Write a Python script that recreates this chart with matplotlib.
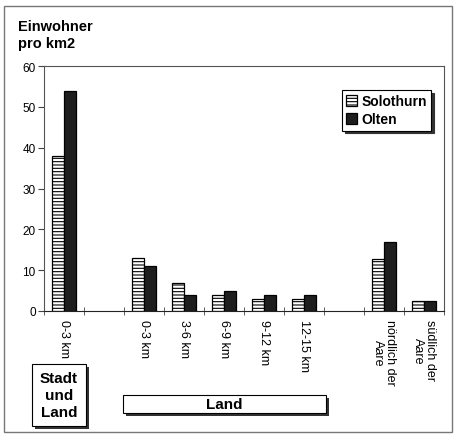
import matplotlib
matplotlib.use('Agg')
import matplotlib.pyplot as plt
from matplotlib.patches import Rectangle
import numpy as np

plt.rcParams['font.family'] = ['Liberation Sans', 'DejaVu Sans']
plt.rcParams['hatch.color'] = '#888888'
plt.rcParams['hatch.linewidth'] = 0.8

# Data
categories = ['0-3 km', '', '0-3 km', '3-6 km', '6-9 km', '9-12 km', '12-15 km', '',
              'nördlich der\nAare', 'südlich der\nAare']
solothurn = [38, np.nan, 13, 6.9, 3.8, 2.9, 2.9, np.nan, 12.7, 2.5]
olten = [54, np.nan, 10.9, 3.9, 4.9, 3.9, 3.8, np.nan, 16.8, 2.5]
yticks = [0, 10, 20, 30, 40, 50, 60]

fig = plt.figure(figsize=(4.57, 4.35), dpi=100)
ax = fig.add_axes([44 / 457, 1 - 312 / 435, 400 / 457, 245 / 435])

x = np.arange(len(categories))
w = 0.3
ax.bar(x - w / 2, solothurn, w, color='white', edgecolor='black', linewidth=0.9,
       hatch='-----', label='Solothurn')
ax.bar(x + w / 2, olten, w, color='#1e1e1e', edgecolor='black', linewidth=0.9,
       label='Olten')

ax.set_xlim(-0.5, len(categories) - 0.5)
ax.set_ylim(0, 60)
ax.set_yticks(yticks)
ax.set_yticklabels([str(t) for t in yticks], fontsize=8.5)
ax.set_xticks(x)
ax.set_xticklabels(categories, rotation=-90, fontsize=9, va='top', ha='center',
                   linespacing=0.95)
ax.tick_params(axis='x', length=0, pad=6)
ax.set_xticks(np.arange(-0.5, len(categories)), minor=True)
ax.tick_params(axis='x', which='minor', length=6, direction='inout', color='#444444')
ax.tick_params(axis='y', length=4, direction='out', color='#444444', pad=2)
for s in ax.spines.values():
    s.set_color('#555555')
    s.set_linewidth(0.8)
ax.spines['bottom'].set_color('#222222')

leg = ax.legend(loc='upper right', bbox_to_anchor=(0.985, 0.93),
                frameon=True, fancybox=False, shadow={'color': '#333333', 'alpha': 1},
                handlelength=0.8, handleheight=0.8, handletextpad=0.3,
                borderpad=0.3, labelspacing=0.3, prop={'weight': 'bold', 'size': 10})
leg.get_frame().set_edgecolor('black')
leg.get_frame().set_linewidth(0.8)

# Title
fig.text(18 / 457, 1 - 20 / 435, 'Einwohner\npro km2', fontsize=10.5, fontweight='bold',
         va='top', ha='left', linespacing=1.3)

# Outer frame
fig.patches.append(Rectangle((4 / 457, 1 - 433 / 435), 448 / 457, 426 / 435,
                             transform=fig.transFigure, fill=False,
                             edgecolor='#777777', linewidth=1.0))

# Bottom boxes with shadow
def shadow_box(x0, y0, x1, y1, text):
    fx0, fx1 = x0 / 457, x1 / 457
    fy0, fy1 = 1 - y1 / 435, 1 - y0 / 435
    fig.patches.append(Rectangle((fx0 + 3 / 457, fy0 - 3 / 435), fx1 - fx0, fy1 - fy0,
                                 transform=fig.transFigure, facecolor='#333333',
                                 edgecolor='none'))
    fig.patches.append(Rectangle((fx0, fy0), fx1 - fx0, fy1 - fy0,
                                 transform=fig.transFigure, facecolor='white',
                                 edgecolor='black', linewidth=0.8))
    fig.text((fx0 + fx1) / 2, (fy0 + fy1) / 2, text, ha='center', va='center',
             fontsize=11, fontweight='bold', linespacing=1.25)

shadow_box(32, 365, 86, 427, 'Stadt\nund\nLand')
shadow_box(123, 396, 326, 414, 'Land')

fig.savefig('out.png', dpi=100)
